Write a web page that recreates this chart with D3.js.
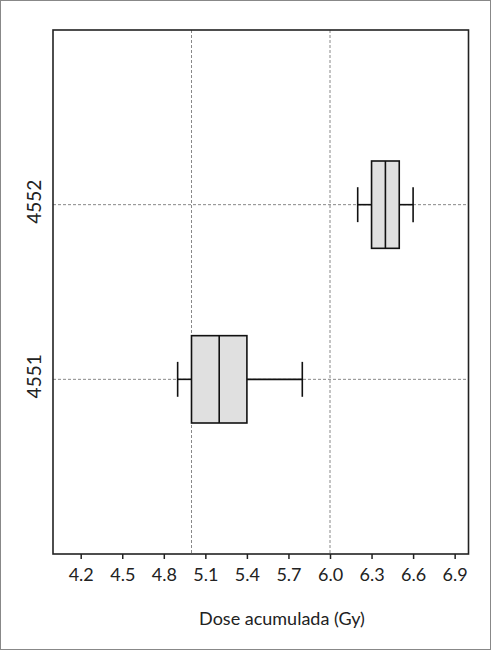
<!DOCTYPE html>
<html><head><meta charset="utf-8">
<script src="https://cdn.jsdelivr.net/npm/d3@7"></script>
<style>body{margin:0;background:#fff}svg{display:block}text{font-family:Lato,"Open Sans",sans-serif;fill:#222}</style>
</head><body><div id="chart"></div>
<script>
const categories = ["4551", "4552"];
const whiskerLow = [4.9, 6.2];
const q1 = [5.0, 6.3];
const median = [5.2, 6.4];
const q3 = [5.4, 6.5];
const whiskerHigh = [5.8, 6.6];
const xTicks = [4.2, 4.5, 4.8, 5.1, 5.4, 5.7, 6.0, 6.3, 6.6, 6.9];
const xGrid = [5.0, 6.0];
const xTitle = "Dose acumulada (Gy)";

(function () {
const W = 491, H = 650;
const svg = d3.select("#chart").append("svg").attr("width", W).attr("height", H);
svg.append("rect").attr("x", 0.5).attr("y", 0.5).attr("width", W - 1).attr("height", H - 1)
  .attr("fill", "#fff").attr("stroke", "#888").attr("stroke-width", 1);

const pL = 53, pR = 468.5, pT = 30, pB = 554;
const x = d3.scaleLinear().domain([4.0, 7.0]).range([pL, pR]);
const y = d3.scaleLinear().domain([0, 3]).range([pB, pT]);
const data = categories.map((c, i) => ({c, pos: i + 1, lo: whiskerLow[i], q1: q1[i], med: median[i], q3: q3[i], hi: whiskerHigh[i]}));

svg.selectAll(".vg").data(xGrid).join("line")
  .attr("x1", d => x(d)).attr("x2", d => x(d)).attr("y1", pT).attr("y2", pB)
  .attr("stroke", "#888").attr("stroke-width", 1).attr("stroke-dasharray", "3,2");
svg.selectAll(".hg").data(data).join("line")
  .attr("x1", pL).attr("x2", pR).attr("y1", d => y(d.pos)).attr("y2", d => y(d.pos))
  .attr("stroke", "#888").attr("stroke-width", 1).attr("stroke-dasharray", "3,2");

const g = svg.append("g").attr("stroke", "#111").attr("stroke-width", 1.6);
data.forEach(d => {
  const cy = y(d.pos);
  const bh = y(0) - y(0.25);
  const ch = y(0) - y(0.1);
  g.append("line").attr("x1", x(d.lo)).attr("x2", x(d.q1)).attr("y1", cy).attr("y2", cy);
  g.append("line").attr("x1", x(d.q3)).attr("x2", x(d.hi)).attr("y1", cy).attr("y2", cy);
  g.append("line").attr("x1", x(d.lo)).attr("x2", x(d.lo)).attr("y1", cy - ch).attr("y2", cy + ch);
  g.append("line").attr("x1", x(d.hi)).attr("x2", x(d.hi)).attr("y1", cy - ch).attr("y2", cy + ch);
  g.append("rect").attr("x", x(d.q1)).attr("y", cy - bh).attr("width", x(d.q3) - x(d.q1)).attr("height", 2 * bh)
    .attr("fill", "#e0e0e0");
  g.append("line").attr("x1", x(d.med)).attr("x2", x(d.med)).attr("y1", cy - bh).attr("y2", cy + bh);
});

svg.append("rect").attr("x", pL).attr("y", pT).attr("width", pR - pL).attr("height", pB - pT)
  .attr("fill", "none").attr("stroke", "#222").attr("stroke-width", 1.6);

const ax = svg.append("g").attr("transform", `translate(0,${pB})`)
  .call(d3.axisBottom(x).tickValues(xTicks).tickFormat(d3.format(".1f")).tickSize(5).tickPadding(9));
ax.select(".domain").remove();
ax.selectAll(".tick line").attr("stroke", "#222").attr("stroke-width", 1.5);
ax.selectAll(".tick text").attr("font-size", 18).attr("font-family", "Lato, sans-serif").attr("fill", "#222");

svg.append("text").attr("x", 282).attr("y", 625).attr("text-anchor", "middle")
  .attr("font-size", 18).text(xTitle);

svg.selectAll(".yl").data(data).join("text")
  .attr("transform", d => `translate(41,${y(d.pos) - 3}) rotate(-90)`)
  .attr("text-anchor", "middle").attr("font-size", 19).text(d => d.c);
})();
</script></body></html>
